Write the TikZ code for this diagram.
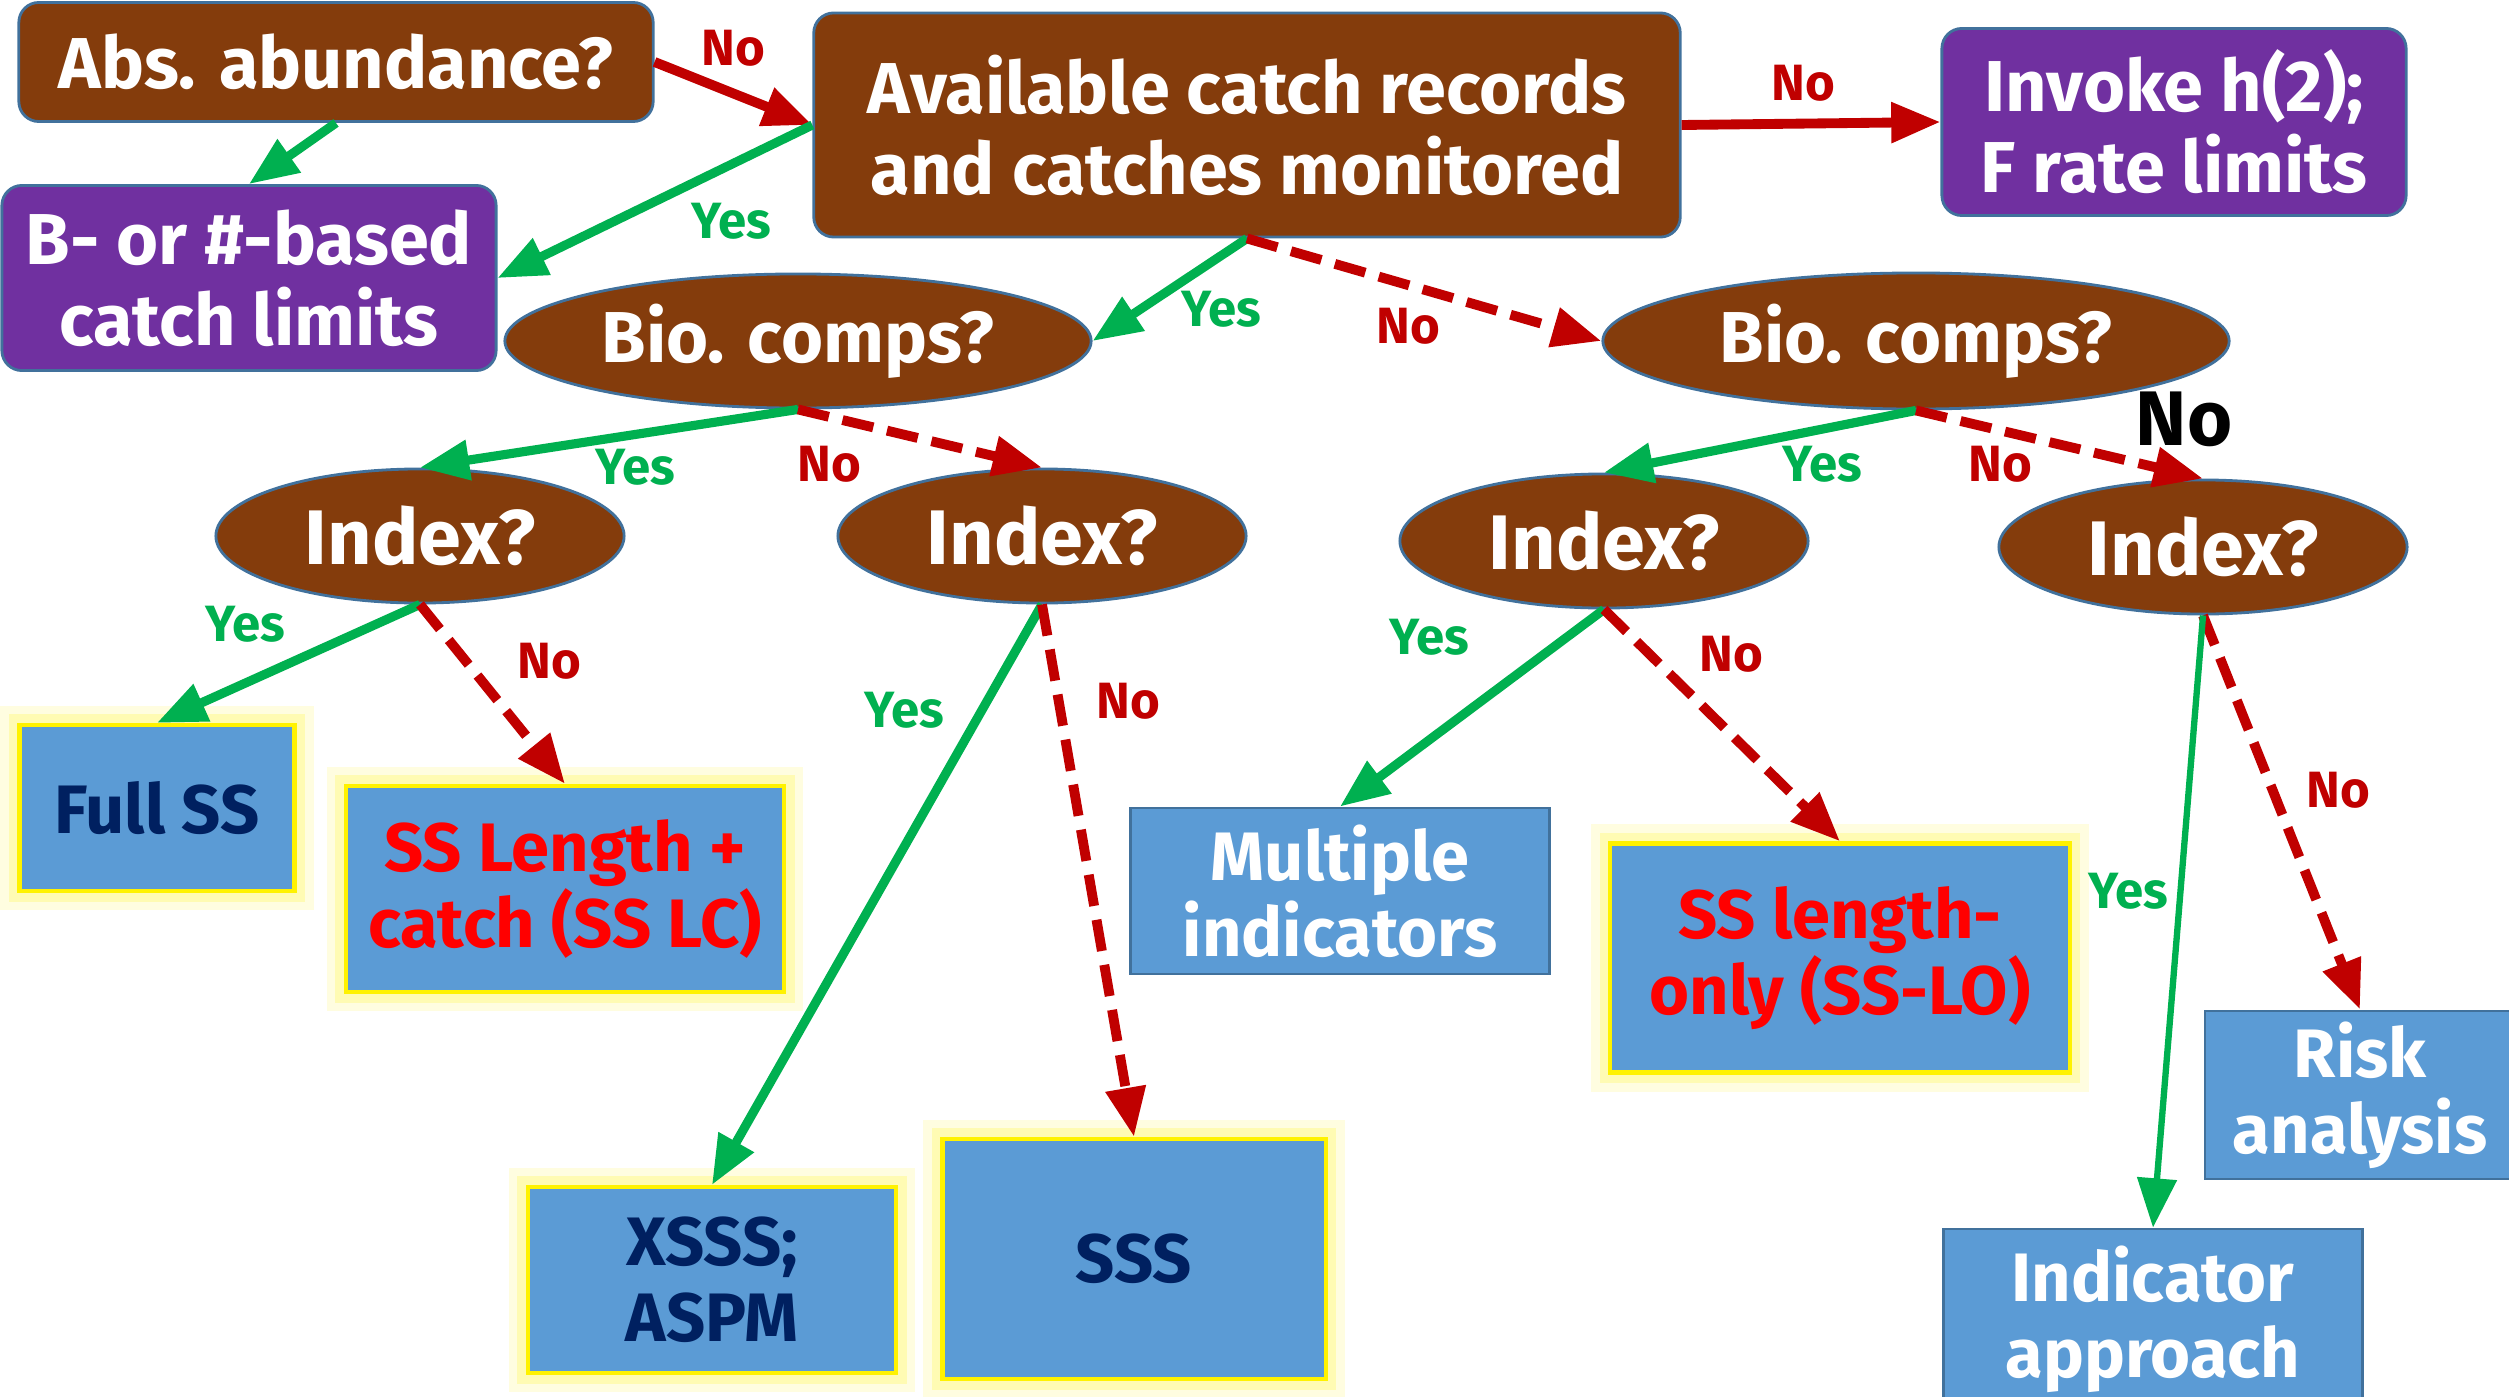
\documentclass[tikz,border=0pt]{standalone}
\usepackage{fontspec}
\setmainfont{Fira Sans}
\usetikzlibrary{shapes.geometric,arrows.meta}
\definecolor{brownq}{HTML}{843C0C}
\definecolor{purpleq}{HTML}{7030A0}
\definecolor{blueq}{HTML}{5B9BD5}
\definecolor{rimq}{HTML}{41719C}
\definecolor{greenq}{HTML}{00B050}
\definecolor{redq}{HTML}{C00000}
\definecolor{navyq}{HTML}{002060}
\definecolor{brightred}{HTML}{FF0000}

\begin{document}
\begin{tikzpicture}[x=0.01cm, y=-0.01cm,
    question/.style={draw=rimq, line width=0.8pt, fill=brownq, rounded corners=0.2cm, text=white,
      font=\fontsize{20.5}{23}\selectfont\bfseries, align=center, inner sep=0pt},
    limits/.style={question, fill=purpleq},
    oval/.style={ellipse, draw=rimq, line width=0.8pt, fill=brownq, text=white, inner sep=0pt,
      minimum width=4.08cm, minimum height=1.34cm, font=\fontsize{22}{24}\selectfont\bfseries},
    result/.style={draw=rimq, line width=0.8pt, fill=blueq, text=white, align=center, inner sep=0pt,
      font=\fontsize{19.5}{21.5}\selectfont\bfseries},
    glowbox/.style={result, draw=yellow, line width=1.2pt,
      preaction={draw=yellow!12, line width=11pt}, preaction={draw=yellow!30, line width=6pt}},
    yesarrow/.style={draw=greenq, line width=2.6pt, -{Triangle[length=14pt,width=11pt]}},
    noarrow/.style={draw=redq, line width=2.8pt, -{Triangle[length=14pt,width=11pt]}},
    nodash/.style={noarrow, dash pattern=on 9pt off 4pt},
    yeslbl/.style={text=greenq, font=\fontsize{14.5}{16}\selectfont\bfseries},
    nolbl/.style={text=redq, font=\fontsize{14.5}{16}\selectfont\bfseries}]
  \useasboundingbox (0,0) rectangle (2509,1397);

  % questions
  \node[question, minimum width=6.34cm, minimum height=1.19cm] (abs) at (336,62) {Abs. abundance?};
  \node[limits, minimum width=4.94cm, minimum height=1.85cm] (bcl) at (249,278) {B- or \#-based\\catch limits};
  \node[question, minimum width=8.66cm, minimum height=2.24cm] (acr) at (1247,125) {Available catch records\\and catches monitored};
  \node[limits, minimum width=4.64cm, minimum height=1.87cm] (inv) at (2174,122) {Invoke h(2);\\F rate limits};

  \node[oval, minimum width=5.86cm, font=\fontsize{20.5}{23}\selectfont\bfseries] (bio1) at (798,341) {Bio. comps?};
  \node[oval, minimum width=6.26cm, minimum height=1.36cm, font=\fontsize{20.5}{23}\selectfont\bfseries] (bio2) at (1916,341) {Bio. comps?};
  \node[oval] (idx1) at (420,536) {Index?};
  \node[oval] (idx2) at (1042,536) {Index?};
  \node[oval] (idx3) at (1604,541) {Index?};
  \node[oval] (idx4) at (2203,547) {Index?};

  % results
  \node[glowbox, minimum width=2.75cm, minimum height=1.66cm, text=navyq] (fullss) at (157,808) {Full SS};
  \node[glowbox, minimum width=4.38cm, minimum height=2.06cm, text=brightred] (sslc) at (565,889) {SS Length +\\catch (SS LC)};
  \node[glowbox, minimum width=3.68cm, minimum height=1.86cm, text=navyq] (xsss) at (712,1280) {XSSS;\\ASPM};
  \node[glowbox, minimum width=3.83cm, minimum height=2.40cm, text=navyq] (sss) at (1134,1259) {SSS};
  \node[result, minimum width=4.18cm, minimum height=1.66cm] (mult) at (1340,891) {Multiple\\indicators};
  \node[glowbox, minimum width=4.59cm, minimum height=2.29cm, text=brightred] (sslo) at (1840,958) {SS length-\\only (SS-LO)};
  \node[result, minimum width=3.10cm, minimum height=1.68cm] (risk) at (2360,1095) {Risk\\analysis};
  \node[result, minimum width=4.18cm, minimum height=1.80cm] (indapp) at (2153,1319) {Indicator\\approach};

  % connectors
  \draw[yesarrow] (abs.south) -- (bcl.north);
  \draw[noarrow] (abs.east) -- (acr.west);
  \draw[yesarrow] (acr.west) -- (bcl.east);
  \draw[noarrow] (acr.east) -- (inv.west);
  \draw[yesarrow] (acr.south) -- (bio1.east);
  \draw[nodash] (acr.south) -- (bio2.west);
  \foreach \a/\b in {bio1/idx1, bio2/idx3, idx1/fullss, idx2/xsss, idx3/mult}
    \draw[yesarrow] (\a.south) -- (\b.north);
  \foreach \a/\b in {bio1/idx2, bio2/idx4, idx1/sslc, idx2/sss, idx3/sslo, idx4/risk}
    \draw[nodash] (\a.south) -- (\b.north);
  \draw[yesarrow, line width=1.8pt] (idx4.south) -- (indapp.north);

  % labels
  \foreach \x/\y [count=\i] in {731/221, 1221/309, 635/467, 1822/464, 245/624, 904/710, 1429/637, 2128/891}
    \node[yeslbl] (yes\i) at (\x,\y) {Yes};
  \foreach \x/\y [count=\i] in {733/48, 1803/83, 1408/326, 829/464, 2000/464, 549/661, 1128/701, 1731/654, 2338/790}
    \node[nolbl] (no\i) at (\x,\y) {No};
  \node[font=\fontsize{22}{24}\selectfont\bfseries] (bigno) at (2184,419) {No};
\end{tikzpicture}
\end{document}
